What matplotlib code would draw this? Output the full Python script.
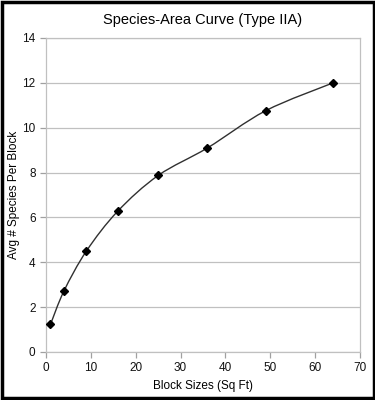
import matplotlib
matplotlib.use("Agg")
import matplotlib.pyplot as plt
from matplotlib.path import Path
from matplotlib.patches import PathPatch, Rectangle

plt.rcParams['font.family'] = ['Liberation Sans', 'DejaVu Sans']

# marimea blocurilor si numarul mediu de specii
block_sizes = [1, 4, 9, 16, 25, 36, 49, 64]
avg_species = [1.23, 2.72, 4.5, 6.28, 7.87, 9.1, 10.76, 12.0]


def smooth_path(xs, ys):
    # curba neteda ca in Excel (bezier cubic prin puncte)
    n = len(xs)
    verts = [(xs[0], ys[0])]
    codes = [Path.MOVETO]
    for i in range(n - 1):
        x0, y0 = (xs[i - 1], ys[i - 1]) if i > 0 else (xs[i], ys[i])
        x1, y1 = xs[i], ys[i]
        x2, y2 = xs[i + 1], ys[i + 1]
        x3, y3 = (xs[i + 2], ys[i + 2]) if i + 2 < n else (x2, y2)
        c1 = (x1 + (x2 - x0) / 6, y1 + (y2 - y0) / 6)
        c2 = (x2 - (x3 - x1) / 6, y2 - (y3 - y1) / 6)
        verts += [c1, c2, (x2, y2)]
        codes += [Path.CURVE4] * 3
    return Path(verts, codes)


fig = plt.figure(figsize=(3.75, 4), dpi=100)
ax = fig.add_axes([0.1227, 0.12, 0.8373, 0.785])

ax.add_patch(PathPatch(smooth_path(block_sizes, avg_species), facecolor='none',
                       edgecolor='#303030', lw=1.0, zorder=3))
ax.plot(block_sizes, avg_species, linestyle='none', marker='D', markersize=4.5,
        color='black', zorder=4)

ax.set_xlim(0, 70)
ax.set_ylim(0, 14)
ax.set_xticks(range(0, 71, 10))
ax.set_yticks(range(0, 15, 2))
ax.grid(axis='y', color='#c0c0c0', lw=0.9)
ax.set_axisbelow(True)
for s in ax.spines.values():
    s.set_color('#c0c0c0')
    s.set_linewidth(0.9)
ax.tick_params(colors='#a0a0a0', labelcolor='#111111', labelsize=8.5, length=4, width=0.9)

ax.set_title('Species-Area Curve (Type IIA)', fontsize=10.5, pad=10)
ax.set_xlabel('Block Sizes (Sq Ft)', fontsize=8.5)
ax.set_ylabel('Avg # Species Per Block', fontsize=8.5)
ax.yaxis.set_label_coords(-0.083, 0.5)

# chenar negru in jurul figurii
fig.patches.append(Rectangle((0.004, 0.004), 0.992, 0.992, transform=fig.transFigure,
                             fill=False, edgecolor='black', lw=2.5))

fig.savefig('out.png', dpi=100)
